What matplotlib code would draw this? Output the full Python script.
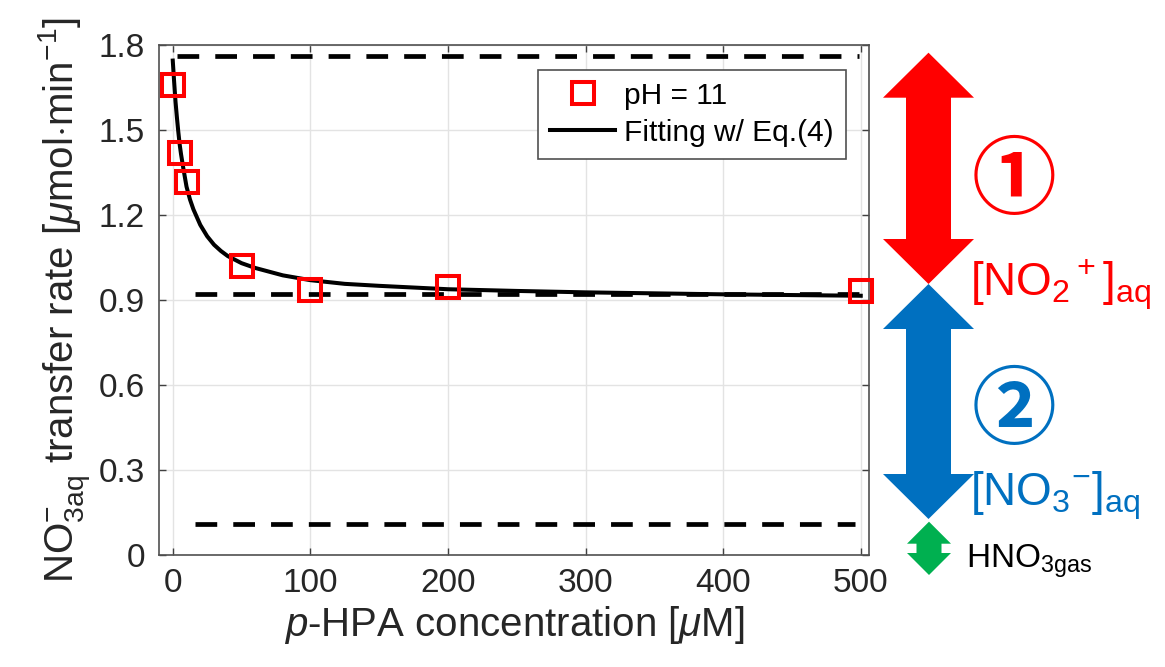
import matplotlib
matplotlib.use("Agg")
import matplotlib.pyplot as plt
from matplotlib.patches import Polygon

# measured points, pH = 11
conc = [0, 5, 10, 50, 100, 200, 500]
rate = [1.66, 1.42, 1.315, 1.02, 0.935, 0.945, 0.932]

# fitted curve (Eq. 4)
fit_conc = [0, 1, 2, 3, 4, 5, 6, 7.5, 10, 12.5, 15, 20, 25, 30, 35, 40, 50, 60, 80,
            100, 125, 150, 200, 250, 300, 400, 500]
fit_rate = [1.745, 1.67, 1.60, 1.545, 1.495, 1.45, 1.415, 1.37, 1.30, 1.255, 1.22, 1.165,
            1.125, 1.095, 1.073, 1.055, 1.03, 1.013, 0.987, 0.97, 0.957, 0.95, 0.938, 0.932,
            0.927, 0.92, 0.915]

# reference levels (dashed)
level_y = [1.762, 0.921, 0.109]
level_x0 = [3, 16, 16]
level_x1 = [499, 500, 496]

xticks = [0, 100, 200, 300, 400, 500]
yticks = [0, 0.3, 0.6, 0.9, 1.2, 1.5, 1.8]
ytick_labels = ["0", "0.3", "0.6", "0.9", "1.2", "1.5", "1.8"]

RED = "#ff0000"
BLUE = "#0070c0"
GREEN = "#00b050"

plt.rcParams["font.family"] = ["Liberation Sans", "DejaVu Sans"]
plt.rcParams["mathtext.fontset"] = "custom"
plt.rcParams["mathtext.rm"] = "Liberation Sans"
plt.rcParams["mathtext.it"] = "Liberation Sans:italic"
plt.rcParams["mathtext.bf"] = "Liberation Sans:bold"

W, H = 1165, 667
fig = plt.figure(figsize=(W / 100, H / 100), dpi=100)
ax = fig.add_axes([159 / W, 1 - 555 / H, 710 / W, 510 / H])

ax.grid(True, color="#e3e3e3", lw=1.0, zorder=0)
for y, x0, x1 in zip(level_y, level_x0, level_x1):
    ax.plot([x0, x1], [y, y], color="black", lw=3.4, dashes=(4.6, 3.4),
            solid_capstyle="butt", dash_capstyle="butt", zorder=2, clip_on=False)

ax.plot(conc, rate, "s", ms=16, mfc="none", mec=RED, mew=2.9, label="pH = 11",
        zorder=4, clip_on=False)
ax.plot(fit_conc, fit_rate, color="black", lw=2.9, label="Fitting w/ Eq.(4)", zorder=3,
        solid_joinstyle="round")

ax.set_xlim(-10, 506)
ax.set_ylim(0, 1.8)
ax.set_xticks(xticks)
ax.set_yticks(yticks)
ax.set_yticklabels(ytick_labels)
ax.tick_params(direction="in", length=5, width=1, color="#404040", labelsize=24,
               top=True, right=True, labelcolor="#262626")
ax.tick_params(axis="y", pad=10)
ax.tick_params(axis="x", pad=9)
for s in ax.spines.values():
    s.set_color("#505050")
    s.set_linewidth(1.2)

ax.set_xlabel(r"$p$-HPA concentration [$\mu$M]", fontsize=29, color="#262626", labelpad=4)
ax.set_ylabel(r"NO$^{-}_{\mathrm{3aq}}$ transfer rate [$\mu$mol$\cdot$min$^{-1}$]",
              fontsize=29, color="#262626", labelpad=4)

leg = ax.legend(loc="upper right", bbox_to_anchor=(0.9676, 0.951), fontsize=21.5,
                frameon=True, fancybox=False, edgecolor="#505050", framealpha=1,
                borderpad=0.4, handlelength=2.2, handletextpad=0.3, labelspacing=0.3,
                borderaxespad=0)
leg.get_frame().set_linewidth(1.2)


def px(x, y):
    return (x / W, 1 - y / H)


def double_arrow(xc, y_top, y_bot, shaft_w, head_w, head_len, color):
    sw, hw = shaft_w / 2, head_w / 2
    pts = [
        (xc, y_top), (xc + hw, y_top + head_len), (xc + sw, y_top + head_len),
        (xc + sw, y_bot - head_len), (xc + hw, y_bot - head_len), (xc, y_bot),
        (xc - hw, y_bot - head_len), (xc - sw, y_bot - head_len),
        (xc - sw, y_top + head_len), (xc - hw, y_top + head_len),
    ]
    fig.patches.append(Polygon([px(*p) for p in pts], closed=True, facecolor=color,
                               edgecolor="none", transform=fig.transFigure))


double_arrow(928.5, 52.7, 284, 45, 91, 45, RED)
double_arrow(928.5, 284, 519, 45, 91, 45, BLUE)
double_arrow(929, 521.7, 575, 25, 44, 22, GREEN)

circ_font = ["Noto Sans CJK JP", "DejaVu Sans"]
fig.text(*px(1014, 182), "\u2460", color=RED, fontsize=61, fontweight="bold",
         family=circ_font, ha="center", va="center")
fig.text(*px(1014, 412), "\u2461", color=BLUE, fontsize=61, fontweight="bold",
         family=circ_font, ha="center", va="center")

fig.text(*px(970, 295), r"[NO$_2$$^+$]$_{\mathrm{aq}}$", color=RED, fontsize=33,
         ha="left", va="baseline")
fig.text(*px(970, 505), r"[NO$_3$$^{-}$]$_{\mathrm{aq}}$", color=BLUE, fontsize=33,
         ha="left", va="baseline")
fig.text(*px(966, 568), r"HNO$_{\mathrm{3gas}}$", color="black", fontsize=24,
         ha="left", va="baseline")

fig.savefig("out.png", dpi=100)
